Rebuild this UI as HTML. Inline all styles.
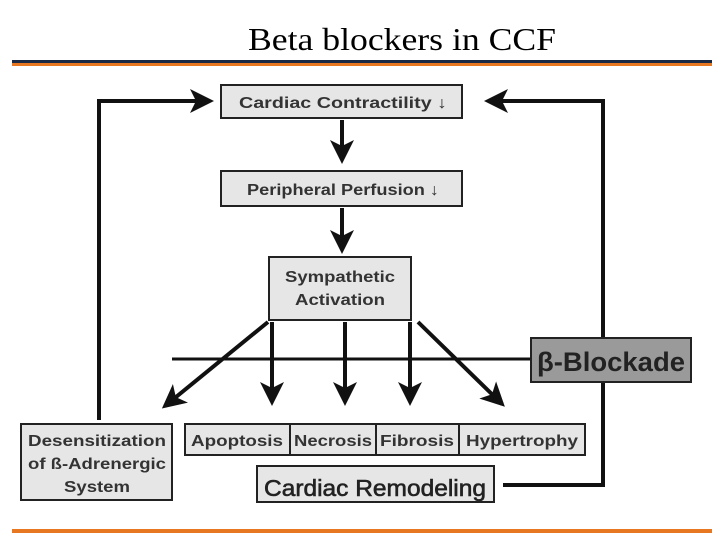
<!DOCTYPE html>
<html><head><meta charset="utf-8"><style>body{margin:0;background:#fff}svg{display:block}</style></head><body>
<svg width="720" height="540" viewBox="0 0 720 540" xmlns="http://www.w3.org/2000/svg">
<defs>
<marker id="a" markerWidth="6" markerHeight="6" refX="5" refY="3" orient="auto" markerUnits="strokeWidth">
<path d="M0,0 L6,3 L0,6 L1.5,3 Z" fill="#111"/></marker>
</defs>
<text x="402" y="50" font-family="Liberation Serif, serif" font-size="32" text-anchor="middle" fill="#000" textLength="308" lengthAdjust="spacingAndGlyphs">Beta blockers in CCF</text>
<rect x="12" y="60" width="700" height="3" fill="#1a2a45"/>
<rect x="12" y="63" width="700" height="3" fill="#e87722"/>
<rect x="12" y="529" width="700" height="4" fill="#e87722"/>
<g stroke="#111" fill="none" stroke-width="4">
<polyline points="99,420 99,101 210,101" marker-end="url(#a)"/>
<polyline points="503,485 603,485 603,101 488,101" marker-end="url(#a)"/>
<line x1="342" y1="120" x2="342" y2="160" marker-end="url(#a)"/>
<line x1="342" y1="208" x2="342" y2="250" marker-end="url(#a)"/>
<line x1="268" y1="322" x2="165" y2="406" marker-end="url(#a)"/>
<line x1="272" y1="322" x2="272" y2="402" marker-end="url(#a)"/>
<line x1="345" y1="322" x2="345" y2="402" marker-end="url(#a)"/>
<line x1="410" y1="322" x2="410" y2="402" marker-end="url(#a)"/>
<line x1="418" y1="322" x2="502" y2="404" marker-end="url(#a)"/>
</g>
<line x1="172" y1="359" x2="531" y2="359" stroke="#111" stroke-width="3"/>
<g stroke="#222" stroke-width="2" fill="#e6e6e6">
<rect x="221" y="85" width="241" height="33"/>
<rect x="221" y="171" width="241" height="35"/>
<rect x="269" y="257" width="142" height="63"/>
<rect x="531" y="338" width="160" height="44" fill="#9a9a9a"/>
<rect x="21" y="424" width="151" height="76"/>
<rect x="185" y="424" width="400" height="31"/>
<rect x="257" y="466" width="237" height="36"/>
</g>
<g stroke="#222" stroke-width="2"><line x1="290" y1="424" x2="290" y2="455"/><line x1="376" y1="424" x2="376" y2="455"/><line x1="459" y1="424" x2="459" y2="455"/></g>
<g font-family="Liberation Sans, sans-serif" font-weight="bold" fill="#333" text-anchor="middle">
<text x="343" y="108" font-size="16" textLength="208" lengthAdjust="spacingAndGlyphs">Cardiac Contractility ↓</text>
<text x="343" y="195" font-size="16" textLength="192" lengthAdjust="spacingAndGlyphs">Peripheral Perfusion ↓</text>
<text x="340" y="282" font-size="16" textLength="110" lengthAdjust="spacingAndGlyphs">Sympathetic</text>
<text x="340" y="305" font-size="16" textLength="90" lengthAdjust="spacingAndGlyphs">Activation</text>
<text x="611" y="371" font-size="27" fill="#222" textLength="148" lengthAdjust="spacingAndGlyphs">β-Blockade</text>
<text x="97" y="446" font-size="16" textLength="138" lengthAdjust="spacingAndGlyphs">Desensitization</text>
<text x="97" y="469" font-size="16" textLength="138" lengthAdjust="spacingAndGlyphs">of ß-Adrenergic</text>
<text x="97" y="492" font-size="16" textLength="66" lengthAdjust="spacingAndGlyphs">System</text>
<text x="237" y="446" font-size="16" textLength="92" lengthAdjust="spacingAndGlyphs">Apoptosis</text>
<text x="333" y="446" font-size="16" textLength="78" lengthAdjust="spacingAndGlyphs">Necrosis</text>
<text x="417" y="446" font-size="16" textLength="74" lengthAdjust="spacingAndGlyphs">Fibrosis</text>
<text x="522" y="446" font-size="16" textLength="112" lengthAdjust="spacingAndGlyphs">Hypertrophy</text>
<text x="375" y="496" font-size="23" font-weight="normal" stroke="#222" stroke-width="0.6" fill="#222" textLength="222" lengthAdjust="spacingAndGlyphs">Cardiac Remodeling</text>
</g>
</svg>
</body></html>
